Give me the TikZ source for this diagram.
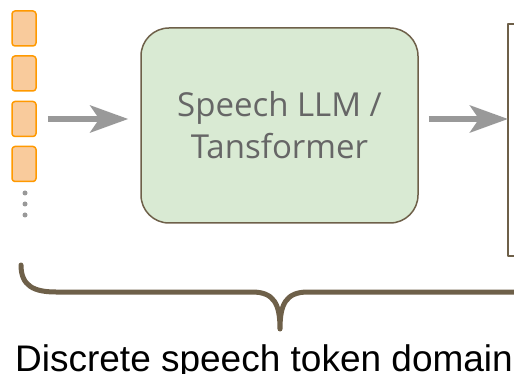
\documentclass[tikz,border=0pt]{standalone}
\usepackage{fontspec}
\setmainfont{Liberation Sans}
\newfontfamily\boxfont{Open Sans}
\usetikzlibrary{arrows.meta}
\definecolor{tokfill}{HTML}{F9CB9C}
\definecolor{tokline}{HTML}{FF9900}
\definecolor{llmfill}{HTML}{D9EAD3}
\definecolor{brline}{HTML}{6E6049}
\definecolor{arrgray}{HTML}{999999}
\definecolor{txtgray}{HTML}{666666}
\tikzset{
	token/.style={draw=tokline, fill=tokfill, line width=1.5pt, rounded corners=3pt, minimum width=24pt, minimum height=35pt, inner sep=0pt},
	llmbox/.style={draw=brline, fill=llmfill, line width=1.5pt, rounded corners=28pt, minimum width=277pt, minimum height=195pt, inner sep=0pt, align=center, text=txtgray, font=\boxfont\fontsize{33}{42}\selectfont},
	flow/.style={draw=arrgray, line width=6pt, line cap=butt, -{Stealth[length=38pt, width=27pt, inset=9pt]}}
}
\begin{document}
\begin{tikzpicture}[x=1pt, y=-1pt, line join=round, line cap=round]
						\useasboundingbox (0,0) rectangle (514,374);
						\foreach \y [count=\i] in {28.5, 73.5, 119, 164} \node[token] (t\i) at (24,\y) {};
						\foreach \y in {193, 204, 215} \fill[arrgray] (25,\y) circle (2.5);
						\node[llmbox] (llm) at (279.5,125.5) {Speech LLM /\\Tansformer};
						\coordinate (nxt) at (508,119);
						\draw[brline, line width=1.5pt, line cap=butt] (518,24) -- (508,24) -- (508,256) -- (518,256);
						\draw[flow] ([xshift=11pt]t3.east) -- ([xshift=-12pt]llm.west |- t3.east);
						\draw[flow] ([xshift=10pt]llm.east |- nxt) -- (nxt);
						\coordinate (tip) at (280,329);
						\draw[brline, line width=5pt] (21,265) .. controls (21,286) and (34,292) .. (56,292) -- (252,292) .. controls (274,292) and (280,304) .. (tip) .. controls (280,304) and (286,292) .. (308,292) -- (530,292);
						\node[anchor=base, font=\fontsize{37}{44}\selectfont, inner sep=0pt] (dom) at (264,371.5) {Discrete speech token domain};
					\end{tikzpicture}
\end{document}
